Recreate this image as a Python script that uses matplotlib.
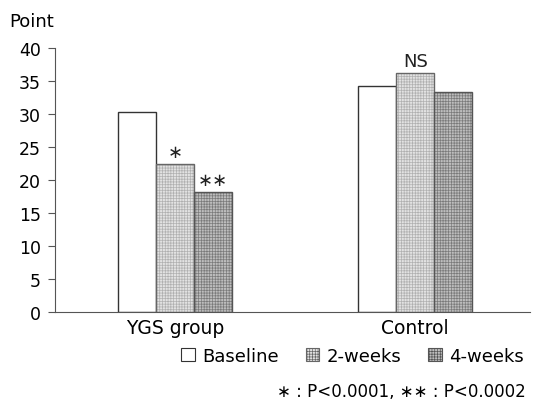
import matplotlib
matplotlib.use('Agg')
from matplotlib import pyplot as plt
from matplotlib.patches import Patch

groups = ['YGS group', 'Control']
series = ['Baseline', '2-weeks', '4-weeks']
baseline = [30.3, 34.2]
weeks2 = [22.4, 36.2]
weeks4 = [18.2, 33.3]
marks = [['', '\u2217', '\u2217\u2217'], ['', 'NS', '']]

plt.rcParams['font.family'] = ['DejaVu Sans']
plt.rcParams['hatch.linewidth'] = 0.5

fig = plt.figure(figsize=(5.33, 4.10), dpi=100)
ax = fig.add_axes([55 / 533, 97 / 410, 475 / 533, 264 / 410])

fills = [('white', None, 'white'), ('#e2e2e2', '++++++', '#b0b0b0'), ('#bdbdbd', '++++++', '#7a7a7a')]
outline = ['#333333', '#666666', '#555555']
centers = [0, 6.32]
width = 1.0
for k, vals in enumerate([baseline, weeks2, weeks4]):
    xs = [c + (k - 1) * width for c in centers]
    fc, hatch, hc = fills[k]
    # hatch layer, then outline on top
    ax.bar(xs, vals, width, facecolor=fc, edgecolor=hc, hatch=hatch, linewidth=0)
    bars = ax.bar(xs, vals, width, facecolor='none', edgecolor=outline[k], linewidth=1.0)
    for i, b in enumerate(bars):
        if marks[i][k]:
            ax.text(b.get_x() + width / 2, vals[i] + 0.5, marks[i][k],
                    ha='center', va='bottom', fontsize=13, color='#222222')

ax.set_xlim(-3.16, 9.34)
ax.set_ylim(0, 40)
ax.set_yticks(range(0, 41, 5))
ax.set_xticks(centers)
ax.set_xticklabels(groups, fontsize=13.5)
ax.tick_params(axis='y', labelsize=12.5, length=5, color='#555555', pad=5)
ax.tick_params(axis='x', length=0, pad=4)
for s in ['top', 'right']:
    ax.spines[s].set_visible(False)
ax.spines['left'].set_color('#555555')
ax.spines['bottom'].set_color('#555555')

fig.text(9 / 533, 1 - 22 / 410, 'Point', fontsize=13, va='center')

handles = [Patch(facecolor=fills[k][0], hatch=fills[k][1], edgecolor=outline[k],
                 linewidth=0.8, label=series[k]) for k in range(3)]
fig.legend(handles=handles, loc='center right', bbox_to_anchor=(1.0, 1 - 357 / 410),
           ncol=3, frameon=False, fontsize=13, handlelength=0.75, handleheight=0.75,
           handletextpad=0.4, columnspacing=1.5, borderaxespad=0.1)

fig.text(526 / 533, 1 - 392 / 410, '\u2217 : P<0.0001, \u2217\u2217 : P<0.0002', fontsize=12,
         ha='right', va='center')

fig.savefig('out.png', dpi=100)
